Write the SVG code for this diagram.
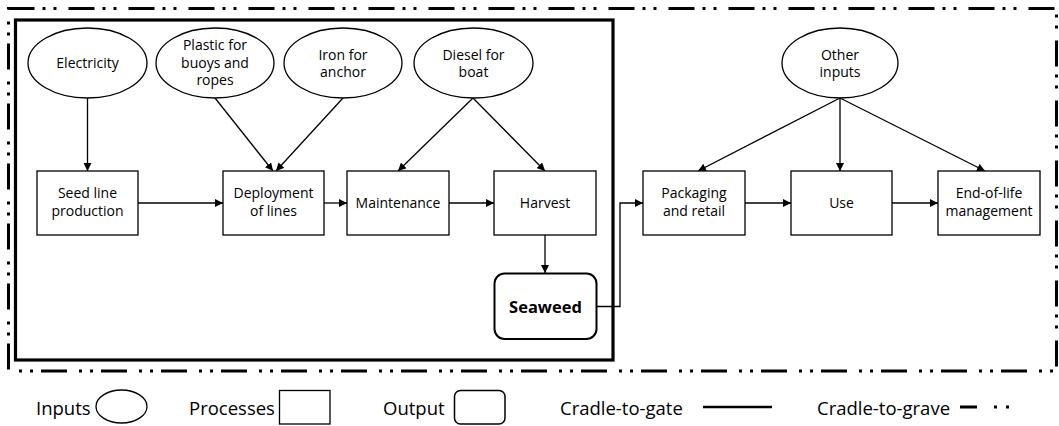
<svg xmlns="http://www.w3.org/2000/svg" width="1059" height="426" viewBox="0 0 1059 426">
<defs>
<style>
text{font-family:"Open Sans","Liberation Sans",sans-serif;font-size:14px;fill:#000;text-anchor:middle}
.lg{font-size:18.5px;text-anchor:start}
.b{font-weight:bold;font-size:16.5px}
.n{fill:#fff;stroke:#000;stroke-width:1.3}
.c{fill:none;stroke:#000;stroke-width:1.3}
</style>
<marker id="ah" viewBox="0 0 10 10" refX="10" refY="5" markerWidth="8" markerHeight="8" markerUnits="userSpaceOnUse" orient="auto">
<path d="M0,0 L10,5 L0,10 z" fill="#000"/>
</marker>
</defs>
<rect width="1059" height="426" fill="#fff"/>
<g id="boundaries">
<rect x="8.5" y="8.5" width="1048" height="362.5" fill="none" stroke="#000" stroke-width="3" stroke-dasharray="26 8 3 8 3 12"/>
<rect x="15.5" y="20" width="597.5" height="340" fill="none" stroke="#000" stroke-width="3.2"/>
</g>
<g id="connectors">
<path class="c" d="M87.5,98 V171" marker-end="url(#ah)"/>
<path class="c" d="M215,98 L273,171" marker-end="url(#ah)"/>
<path class="c" d="M343,98 L276,171" marker-end="url(#ah)"/>
<path class="c" d="M473,98 L398,171" marker-end="url(#ah)"/>
<path class="c" d="M473,98 L545,171" marker-end="url(#ah)"/>
<path class="c" d="M840,98 L698,171" marker-end="url(#ah)"/>
<path class="c" d="M840,98 V171" marker-end="url(#ah)"/>
<path class="c" d="M840,98 L985,171" marker-end="url(#ah)"/>
<path class="c" d="M138,203 H223" marker-end="url(#ah)"/>
<path class="c" d="M324,203 H347" marker-end="url(#ah)"/>
<path class="c" d="M449,203 H494" marker-end="url(#ah)"/>
<path class="c" d="M745,203 H791" marker-end="url(#ah)"/>
<path class="c" d="M892,203 H938" marker-end="url(#ah)"/>
<path class="c" d="M545,235 V273" marker-end="url(#ah)"/>
<path class="c" d="M597,306.5 H620 V203 H643" marker-end="url(#ah)"/>
</g>
<g id="electricity"><ellipse class="n" cx="87.5" cy="63" rx="59.5" ry="35"/><text x="87.5" y="68">Electricity</text></g>
<g id="plastic"><ellipse class="n" cx="215" cy="63" rx="59" ry="35"/><text x="215" y="50">Plastic for</text><text x="215" y="67.5">buoys and</text><text x="215" y="85">ropes</text></g>
<g id="iron"><ellipse class="n" cx="343" cy="63" rx="59" ry="35"/><text x="343" y="59.5">Iron for</text><text x="343" y="77">anchor</text></g>
<g id="diesel"><ellipse class="n" cx="473.5" cy="63" rx="59.5" ry="35"/><text x="473.5" y="59.5">Diesel for</text><text x="473.5" y="77">boat</text></g>
<g id="other"><ellipse class="n" cx="840" cy="63" rx="58" ry="35"/><text x="840" y="59.5">Other</text><text x="840" y="77">inputs</text></g>
<g id="seedline"><rect class="n" x="37" y="171" width="101" height="64"/><text x="87.5" y="198">Seed line</text><text x="87.5" y="216">production</text></g>
<g id="deployment"><rect class="n" x="223" y="171" width="101" height="64"/><text x="273.5" y="198">Deployment</text><text x="273.5" y="216">of lines</text></g>
<g id="maintenance"><rect class="n" x="347" y="171" width="102" height="64"/><text x="398" y="208">Maintenance</text></g>
<g id="harvest"><rect class="n" x="494" y="171" width="102" height="64"/><text x="545" y="208">Harvest</text></g>
<g id="seaweed"><rect x="494.5" y="273.5" width="102" height="65.5" rx="10" fill="#fff" stroke="#000" stroke-width="2"/><text class="b" x="545.5" y="313">Seaweed</text></g>
<g id="packaging"><rect class="n" x="643" y="171" width="102" height="64"/><text x="694" y="198">Packaging</text><text x="694" y="216">and retail</text></g>
<g id="use"><rect class="n" x="791" y="171" width="101" height="64"/><text x="841.5" y="208">Use</text></g>
<g id="endoflife"><rect class="n" x="938" y="171" width="102" height="64"/><text x="989" y="198">End-of-life</text><text x="989" y="216">management</text></g>
<g id="legend">
<text class="lg" x="36" y="415">Inputs</text>
<ellipse cx="121.5" cy="406.5" rx="25.5" ry="16.5" fill="#fff" stroke="#000" stroke-width="1.3"/>
<text class="lg" x="189" y="415">Processes</text>
<rect x="279.5" y="390.5" width="50.5" height="33.5" fill="#fff" stroke="#000" stroke-width="1.3"/>
<text class="lg" x="383" y="415">Output</text>
<rect x="454.5" y="390.5" width="50.5" height="33.5" rx="6" fill="#fff" stroke="#000" stroke-width="1.5"/>
<text class="lg" x="560" y="415">Cradle-to-gate</text>
<line x1="703" y1="407" x2="772" y2="407" stroke="#000" stroke-width="2.5"/>
<text class="lg" x="817" y="415">Cradle-to-grave</text>
<line x1="960" y1="407" x2="1010" y2="407" stroke="#000" stroke-width="3" stroke-dasharray="17 17 3 9 3 100"/>
</g>
</svg>
